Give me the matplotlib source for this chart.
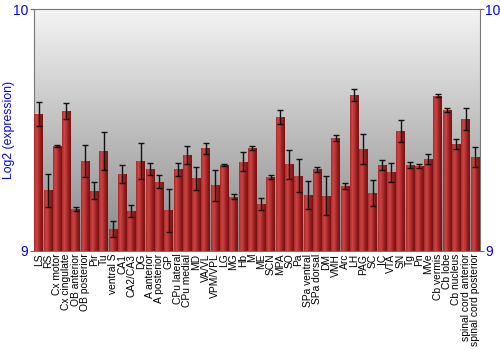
import numpy as np
import matplotlib
matplotlib.use("Agg")
import matplotlib.pyplot as plt
from matplotlib.colors import LinearSegmentedColormap

plt.rcParams['font.family'] = ['Liberation Sans', 'DejaVu Sans']

regions = ["LS", "RS", "Cx motor", "Cx cingulate", "OB anterior", "OB posterior", "Pir", "Tu",
           "ventral S", "CA1", "CA2/CA3", "DG", "A anterior", "A posterior", "GP", "CPu lateral",
           "CPu medial", "MD", "VA/VL", "VPM/VPL", "LG", "MG", "Hb", "M", "ME", "SCN", "MPA", "SO",
           "Pa", "SPa ventral", "SPa dorsal", "DM", "VMH", "Arc", "LH", "PAG", "SC", "IC", "VTA",
           "SN", "Tg", "Pn", "MVe", "Cb vermis", "Cb lobe", "Cb nucleus", "spinal cord anterior",
           "spinal cord posterior"]
values = [9.566, 9.251, 9.434, 9.579, 9.173, 9.373, 9.249, 9.413,
          9.091, 9.320, 9.166, 9.372, 9.338, 9.287, 9.169, 9.337,
          9.396, 9.301, 9.425, 9.272, 9.356, 9.224, 9.369, 9.425, 9.193, 9.304, 9.554, 9.359,
          9.311, 9.231, 9.338, 9.229, 9.467, 9.268, 9.644, 9.421, 9.240, 9.356, 9.325,
          9.496, 9.355, 9.351, 9.381, 9.641, 9.583, 9.443, 9.547, 9.388]
errors = [0.048, 0.068, 0.003, 0.033, 0.007, 0.066, 0.035, 0.080,
          0.032, 0.037, 0.024, 0.075, 0.025, 0.025, 0.089, 0.028,
          0.036, 0.048, 0.023, 0.064, 0.003, 0.010, 0.040, 0.007, 0.024, 0.008, 0.028, 0.060,
          0.068, 0.059, 0.010, 0.079, 0.011, 0.011, 0.026, 0.061, 0.055, 0.022, 0.038,
          0.044, 0.014, 0.010, 0.021, 0.006, 0.010, 0.021, 0.046, 0.041]
y_ticks = [9, 10]

fig = plt.figure(figsize=(5, 3.5), dpi=100)
ax = fig.add_axes([0.068, 0.283, 0.891, 0.691])
n = len(regions)
x = np.arange(n)
ax.set_xlim(-0.5, n - 0.5)
ax.set_ylim(9, 10)

# background gradient
bg = LinearSegmentedColormap.from_list("bg", ["#888888", "#f4f4f4"])
grad = np.linspace(0, 1, 256).reshape(-1, 1)
ax.imshow(grad, cmap=bg, aspect="auto", extent=(-0.5, n - 0.5, 9, 10),
          origin="lower", zorder=0)

bars = ax.bar(x, np.array(values) - 9, bottom=9, width=0.92, color="#b02a2a",
              edgecolor="none", zorder=2)
barcm = LinearSegmentedColormap.from_list("bar", ["#a82828", "#cc4646", "#b83232", "#921c1c", "#761212"])
hgrad = np.linspace(0, 1, 64).reshape(1, -1)
for b, v in zip(bars, values):
    x0 = b.get_x()
    w = b.get_width()
    im = ax.imshow(hgrad, cmap=barcm, aspect="auto", extent=(x0, x0 + w, 9, v),
                   zorder=3)
    im.set_clip_path(b)

ax.errorbar(x, values, yerr=errors, fmt="none", ecolor="#111111", elinewidth=1,
            capsize=2, capthick=1, zorder=4)

ax.set_yticks(y_ticks)
ax.set_yticklabels([str(t) for t in y_ticks], color="#0000ff", fontsize=10)
ax.tick_params(axis="y", which="both", right=True, labelright=True, length=3,
               color="#666666", pad=1)
ax.set_xticks(x)
ax.set_xticklabels(regions, rotation=90, fontsize=7.4)
ax.tick_params(axis="x", length=0, pad=2)
ax.set_ylabel("Log2 (expression)", color="#0000ff", fontsize=8.8)
ax.yaxis.set_label_coords(-0.042, 0.5)
for s in ax.spines.values():
    s.set_color("#777777")

fig.savefig("out.png", dpi=100)
